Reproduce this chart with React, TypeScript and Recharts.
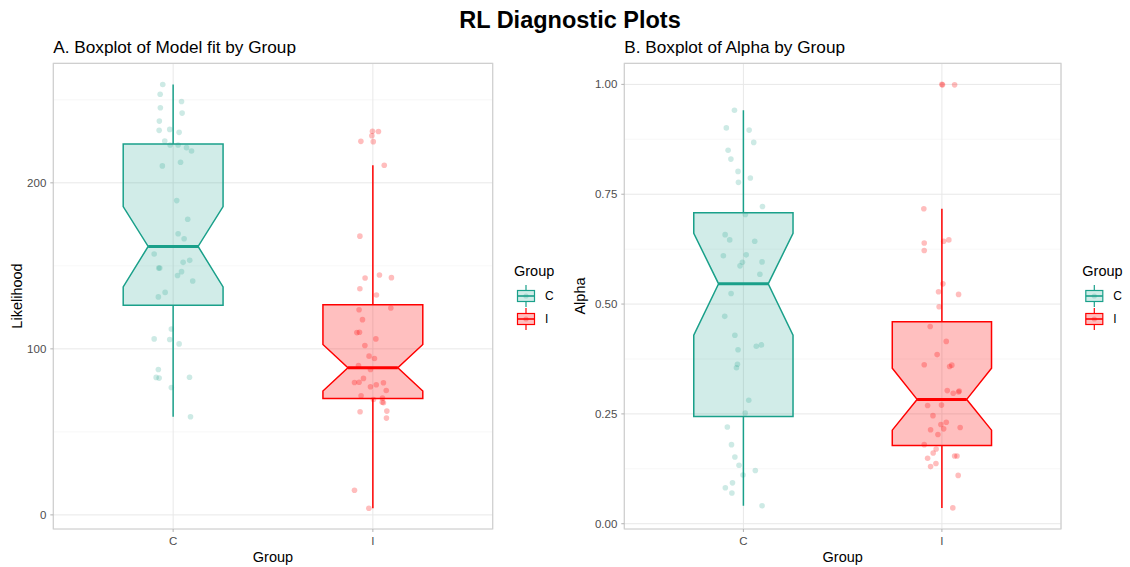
import React from 'react';
import { ComposedChart, Scatter, XAxis, YAxis, CartesianGrid, ReferenceArea } from 'recharts';

const FONT = '"Liberation Sans", Arial, Helvetica, sans-serif';

// Categories
const groups = ['C', 'I'];
const groupPositions = [1, 2];

// Panel A: Likelihood, jittered observations [jitter offset (group units), value]
const likelihoodC: [number, number][] = [
  [-0.052, 259.2], [-0.065, 253.4], [0.042, 249], [-0.064, 245.2], [0.045, 242],
  [-0.069, 237.2], [-0.07, 231.6], [-0.017, 232.2], [0.03, 230.4], [-0.042, 225.2],
  [-0.015, 222.8], [0.025, 222.8], [0.067, 221.2], [0.092, 219.2], [-0.054, 210.2],
  [0.037, 212.4], [0.018, 189.3], [0.073, 178.1], [0.025, 169.3], [0.055, 166.3],
  [-0.095, 157.1], [-0.072, 148.7], [-0.067, 148.7], [0.05, 152.1], [0.083, 153.3],
  [0.042, 146.5], [0.022, 144.2], [0.098, 140.9], [-0.04, 134], [-0.074, 131.3],
  [-0.009, 112], [-0.095, 106], [-0.017, 105.6], [0.03, 103], [-0.074, 87.6],
  [-0.085, 82.8], [-0.07, 82.4], [0.082, 82.9], [-0.009, 76.7], [0.087, 59.1],
];
const likelihoodI: [number, number][] = [
  [-0.002, 231.1], [0.028, 230.9], [-0.005, 228.4], [-0.06, 225], [0.002, 224.8],
  [0.057, 210.6], [-0.065, 167.9], [-0.039, 142.7], [0.033, 144.5], [0.093, 142.9],
  [-0.065, 136.2], [0.018, 132.4], [-0.069, 123.6], [0.09, 124.6], [-0.052, 117.6],
  [-0.08, 109.8], [-0.067, 110], [0.015, 106], [-0.04, 102], [-0.019, 95.6],
  [0.008, 94.2], [-0.072, 90], [-0.012, 87.6], [-0.047, 82.2], [-0.092, 79.7],
  [-0.069, 79.9], [-0.012, 77.2], [0.017, 78.4], [0.053, 79.6], [0.067, 74.9],
  [-0.059, 71.8], [0.003, 69.5], [0.048, 70.3], [0.047, 67.9], [0.053, 67.5],
  [0.07, 62.5], [0.068, 58.3], [-0.064, 62.1], [-0.092, 14.8], [-0.02, 4],
];

// Panel B: Alpha, jittered observations
const alphaC: [number, number][] = [
  [-0.045, 0.941], [-0.086, 0.901], [0.029, 0.896], [0.052, 0.868], [-0.077, 0.85],
  [-0.063, 0.83], [-0.027, 0.802], [0.035, 0.787], [-0.025, 0.777], [0.096, 0.722],
  [0.01, 0.704], [-0.092, 0.658], [-0.069, 0.646], [0.057, 0.643], [-0.101, 0.61],
  [0.014, 0.612], [-0.005, 0.595], [-0.017, 0.587], [0.094, 0.596], [0.083, 0.568],
  [-0.062, 0.524], [-0.094, 0.472], [-0.043, 0.429], [-0.027, 0.396], [0.065, 0.404],
  [0.091, 0.407], [-0.03, 0.363], [-0.035, 0.355], [0.027, 0.281], [0.009, 0.252],
  [-0.081, 0.22], [-0.06, 0.18], [-0.043, 0.152], [-0.022, 0.133], [-0.002, 0.111],
  [0.06, 0.121], [-0.055, 0.093], [-0.091, 0.082], [-0.058, 0.07], [0.094, 0.041],
];
const alphaI: [number, number][] = [
  [0, 1.0], [0.003, 0.999], [0.064, 0.999], [-0.091, 0.717], [-0.089, 0.639],
  [-0.089, 0.622], [0.009, 0.643], [0.035, 0.646], [0.005, 0.546], [-0.017, 0.528],
  [0.084, 0.522], [-0.014, 0.494], [-0.059, 0.449], [0.022, 0.415], [-0.024, 0.385],
  [-0.089, 0.362], [0.039, 0.358], [0.05, 0.361], [0.027, 0.303], [0.057, 0.297],
  [0.084, 0.3], [0.087, 0.302], [-0.072, 0.269], [-0.002, 0.27], [-0.045, 0.246],
  [-0.005, 0.226], [0.022, 0.231], [-0.057, 0.214], [0.009, 0.216], [0.092, 0.219],
  [-0.02, 0.203], [-0.089, 0.18], [-0.029, 0.17], [-0.044, 0.161], [0.064, 0.154],
  [0.076, 0.154], [-0.072, 0.149], [-0.057, 0.13], [-0.03, 0.137], [0.082, 0.11],
  [0.055, 0.036],
];

// Box statistics: [whiskerLow, Q1, notchLow, median, notchHigh, Q3, whiskerHigh]
const likelihoodBoxC = [59.1, 126.2, 137.3, 161.7, 185.7, 223.4, 259.2];
const likelihoodBoxI = [4, 70.1, 74.6, 88.6, 102.6, 126.6, 210.6];
const alphaBoxC = [0.041, 0.244, 0.429, 0.546, 0.661, 0.708, 0.941];
const alphaBoxI = [0.036, 0.178, 0.213, 0.283, 0.354, 0.46, 0.717];

// Axis ticks
const likelihoodTicks = [0, 100, 200];
const likelihoodMinor = [50, 150, 250];
const likelihoodDomain: [number, number] = [-8.5, 272];
const alphaTicks = [0, 0.25, 0.5, 0.75, 1];
const alphaMinor = [0.125, 0.375, 0.625, 0.875];
const alphaDomain: [number, number] = [-0.012, 1.048];
const xDomain: [number, number] = [0.4, 2.6];

const COLORS = ['#1AA08A', '#FF0000'];
const FILLS = ['rgba(26,160,138,0.2)', 'rgba(255,0,0,0.25)'];
const POINT_OPACITY = [0.22, 0.26];

const BOX_HALF = 0.25;
const NOTCH_HALF = 0.125;

function boxPoints(pos: number, s: number[]) {
  const [wl, q1, nl, med, nh, q3, wh] = s;
  return [
    { x: pos, y: wl },
    { x: pos, y: wh },
    { x: pos - BOX_HALF, y: q3 },
    { x: pos + BOX_HALF, y: q1 },
    { x: pos - NOTCH_HALF, y: med },
    { x: pos + NOTCH_HALF, y: med },
    { x: pos, y: nl },
    { x: pos, y: nh },
  ];
}

const makeBoxRenderer = (color: string, fill: string) => (props: any) => {
  const p = props.points;
  if (!p || p.length < 8) return <g />;
  const xc = p[0].x;
  const yWL = p[0].y;
  const yWH = p[1].y;
  const xl = p[2].x;
  const yQ3 = p[2].y;
  const xr = p[3].x;
  const yQ1 = p[3].y;
  const nl = p[4].x;
  const yMed = p[4].y;
  const nr = p[5].x;
  const yNL = p[6].y;
  const yNH = p[7].y;
  const poly = [
    [xl, yQ3], [xr, yQ3], [xr, yNH], [nr, yMed], [xr, yNL], [xr, yQ1],
    [xl, yQ1], [xl, yNL], [nl, yMed], [xl, yNH],
  ].map((q) => q.join(',')).join(' ');
  return (
    <g>
      <line x1={xc} x2={xc} y1={yQ3} y2={yWH} stroke={color} strokeWidth={1.5} />
      <line x1={xc} x2={xc} y1={yQ1} y2={yWL} stroke={color} strokeWidth={1.5} />
      <polygon points={poly} fill={fill} stroke={color} strokeWidth={1.5} />
      <line x1={nl} x2={nr} y1={yMed} y2={yMed} stroke={color} strokeWidth={3} />
    </g>
  );
};

const emptyShape = () => <g />;

const makePointShape = (color: string, opacity: number) => (props: any) => (
  <circle cx={props.cx} cy={props.cy} r={2.8} fill={color} fillOpacity={opacity} />
);

type PanelProps = {
  boxes: number[][];
  points: [number, number][][];
  domain: [number, number];
  ticks: number[];
  minor: number[];
  fmt: (v: number) => string;
  margin: { top: number; right: number; bottom: number; left: number };
  yWidth: number;
};

function Panel({ boxes, points, domain, ticks, minor, fmt, margin, yWidth }: PanelProps) {
  return (
    <ComposedChart width={565} height={567} margin={margin}>
      <CartesianGrid horizontal vertical={false} horizontalValues={minor} stroke="#f3f3f3" strokeWidth={0.7} />
      <CartesianGrid stroke="#e8e8e8" strokeWidth={1} />
      <XAxis
        type="number"
        dataKey="x"
        domain={xDomain}
        ticks={groupPositions}
        interval={0}
        allowDataOverflow
        tickFormatter={(v: number) => groups[Math.round(v) - 1]}
        height={38}
        tickSize={3}
        tickMargin={5}
        axisLine={false}
        tickLine={{ stroke: '#b3b3b3' }}
        tick={{ fill: '#4d4d4d', fontSize: 11.5, fontFamily: FONT }}
      />
      <YAxis
        type="number"
        dataKey="y"
        domain={domain}
        ticks={ticks}
        interval={0}
        allowDataOverflow
        tickFormatter={fmt}
        width={yWidth}
        tickSize={3}
        tickMargin={4}
        axisLine={false}
        tickLine={{ stroke: '#b3b3b3' }}
        tick={{ fill: '#4d4d4d', fontSize: 11.5, fontFamily: FONT }}
      />
      {boxes.map((b, i) => (
        <Scatter
          key={'box' + i}
          data={boxPoints(groupPositions[i], b)}
          shape={emptyShape}
          line={makeBoxRenderer(COLORS[i], FILLS[i])}
          lineType="joint"
          isAnimationActive={false}
        />
      ))}
      {points.map((pts, i) => (
        <Scatter
          key={'pts' + i}
          data={pts.map(([j, v]) => ({ x: groupPositions[i] + j, y: v }))}
          shape={makePointShape(COLORS[i], POINT_OPACITY[i])}
          isAnimationActive={false}
        />
      ))}
      <ReferenceArea
        x1={xDomain[0]}
        x2={xDomain[1]}
        y1={domain[0]}
        y2={domain[1]}
        fill="none"
        fillOpacity={0}
        stroke="#cfcfcf"
        strokeWidth={1.2}
        ifOverflow="visible"
      />
    </ComposedChart>
  );
}

function LegendKey({ x, y, i }: { x: number; y: number; i: number }) {
  return (
    <g>
      <line x1={x + 9} x2={x + 9} y1={y - 11} y2={y + 11} stroke={COLORS[i]} strokeWidth={1.2} />
      <rect x={x + 0.5} y={y - 5.5} width={17} height={11} fill="#fff" stroke="none" />
      <rect x={x + 0.5} y={y - 5.5} width={17} height={11} fill={FILLS[i]} stroke={COLORS[i]} strokeWidth={1.2} />
      <line x1={x + 0.5} x2={x + 17.5} y1={y} y2={y} stroke={COLORS[i]} strokeWidth={1.6} />
      <circle cx={x + 9} cy={y} r={2.6} fill={COLORS[i]} fillOpacity={POINT_OPACITY[i]} />
    </g>
  );
}

function Legend({ x }: { x: number }) {
  return (
    <g fontFamily={FONT}>
      <text x={x} y={276} fontSize={14.5} fill="#000">Group</text>
      {groups.map((g, i) => (
        <g key={g}>
          <LegendKey x={x + 3} y={296 + i * 23} i={i} />
          <text x={x + 31} y={300.3 + i * 23} fontSize={12} fill="#000">{g}</text>
        </g>
      ))}
    </g>
  );
}

export default function App() {
  return (
    <div style={{ position: 'absolute', left: 0, top: 0, width: 1130, height: 567, background: '#fff', fontFamily: FONT }}>
      <div style={{ position: 'absolute', left: 0, top: 0 }}>
        <Panel
          boxes={[likelihoodBoxC, likelihoodBoxI]}
          points={[likelihoodC, likelihoodI]}
          domain={likelihoodDomain}
          ticks={likelihoodTicks}
          minor={likelihoodMinor}
          fmt={(v) => String(v)}
          margin={{ top: 63.3, right: 72.3, bottom: 0, left: 8 }}
          yWidth={45.3}
        />
      </div>
      <div style={{ position: 'absolute', left: 565, top: 0 }}>
        <Panel
          boxes={[alphaBoxC, alphaBoxI]}
          points={[alphaC, alphaI]}
          domain={alphaDomain}
          ticks={alphaTicks}
          minor={alphaMinor}
          fmt={(v) => v.toFixed(2)}
          margin={{ top: 63.3, right: 69, bottom: 0, left: 9.3 }}
          yWidth={50}
        />
      </div>
      <svg width={1130} height={567} style={{ position: 'absolute', left: 0, top: 0, pointerEvents: 'none' }}>
        <text x={570} y={27.5} textAnchor="middle" fontSize={23.5} fontWeight="bold" fontFamily={FONT} fill="#000">
          RL Diagnostic Plots
        </text>
        <text x={53.3} y={53} fontSize={17.2} fontFamily={FONT} fill="#000">A. Boxplot of Model fit by Group</text>
        <text x={624.3} y={53} fontSize={17.2} fontFamily={FONT} fill="#000">B. Boxplot of Alpha by Group</text>
        <text x={273} y={562} textAnchor="middle" fontSize={14.5} fontFamily={FONT} fill="#000">Group</text>
        <text x={842.7} y={562} textAnchor="middle" fontSize={14.5} fontFamily={FONT} fill="#000">Group</text>
        <text transform="translate(21.5,296) rotate(-90)" textAnchor="middle" fontSize={14.5} fontFamily={FONT} fill="#000">
          Likelihood
        </text>
        <text transform="translate(585.3,296) rotate(-90)" textAnchor="middle" fontSize={14.5} fontFamily={FONT} fill="#000">
          Alpha
        </text>
        <Legend x={514} />
        <Legend x={1082.3} />
      </svg>
    </div>
  );
}
